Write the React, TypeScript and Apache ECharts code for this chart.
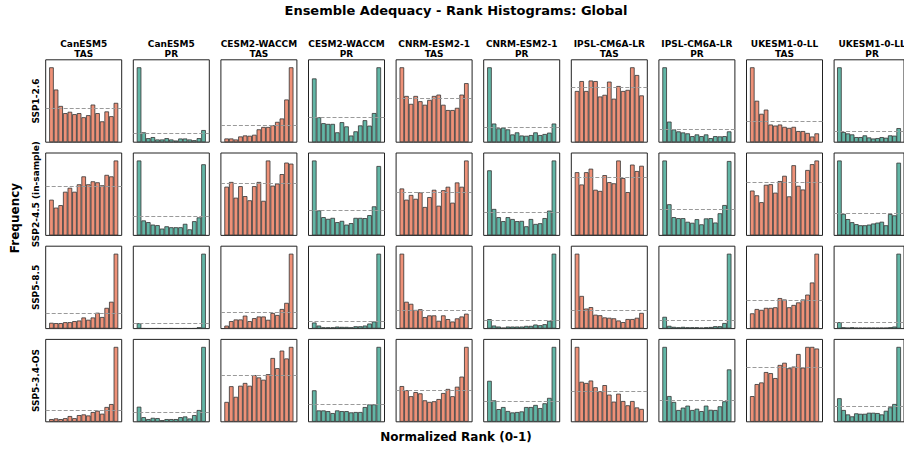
import React, { useEffect, useRef } from "react";
import * as echarts from "echarts";

// Columns: model x variable; rows: scenarios. Values are observed/expected frequency per rank bin (uniform = 1).
const models = ["CanESM5", "CESM2-WACCM", "CNRM-ESM2-1", "IPSL-CM6A-LR", "UKESM1-0-LL"];
const variables = ["TAS", "PR"];
const scenarios = ["SSP1-2.6", "SSP2-4.5 (in-sample)", "SSP5-8.5", "SSP5-3.4-OS"];
const nBins = 15;
const expected = 1;

const ssp126 = [
  [2.19, 1.54, 1.06, 0.85, 0.89, 0.82, 0.85, 0.73, 0.79, 1.10, 0.85, 0.61, 0.90, 0.76, 1.15],
  [8.50, 1.12, 0.46, 0.58, 0.31, 0.31, 0.46, 0.31, 0.19, 0.42, 0.42, 0.31, 0.23, 0.46, 1.38],
  [0.22, 0.22, 0.16, 0.34, 0.40, 0.38, 0.44, 0.76, 0.90, 0.90, 1.00, 1.20, 1.40, 2.52, 4.42],
  [2.58, 1.01, 0.77, 0.74, 0.74, 0.40, 0.81, 0.64, 0.27, 0.44, 0.68, 0.89, 0.67, 1.18, 3.03],
  [1.70, 1.05, 0.87, 1.05, 0.93, 0.85, 0.96, 1.05, 1.08, 0.85, 0.73, 0.73, 0.78, 1.08, 1.34],
  [5.02, 1.25, 0.93, 0.98, 0.86, 0.52, 0.66, 0.45, 0.43, 0.48, 0.66, 0.48, 0.55, 0.64, 1.25],
  [0.93, 1.11, 0.93, 1.12, 1.11, 0.83, 0.86, 1.10, 0.79, 1.02, 0.93, 0.95, 1.36, 1.22, 0.85],
  [5.67, 1.56, 0.97, 0.82, 0.74, 0.67, 0.46, 0.59, 0.46, 0.59, 0.31, 0.46, 0.44, 0.46, 0.82],
  [3.56, 1.97, 1.35, 1.55, 0.84, 0.79, 0.84, 0.73, 0.68, 0.73, 0.53, 0.53, 0.44, 0.27, 0.42],
  [6.90, 0.94, 0.81, 0.72, 0.47, 0.47, 0.63, 0.44, 0.34, 0.38, 0.47, 0.41, 0.63, 0.60, 1.30],
];

const ssp245 = [
  [0.72, 0.56, 0.61, 0.88, 0.96, 0.88, 1.03, 1.19, 1.03, 1.09, 1.07, 1.01, 1.22, 1.19, 1.51],
  [3.95, 0.79, 0.70, 0.57, 0.54, 0.36, 0.48, 0.43, 0.43, 0.43, 0.61, 0.32, 0.75, 0.95, 3.75],
  [0.93, 1.02, 0.72, 0.94, 0.75, 0.67, 0.94, 1.02, 0.66, 1.43, 0.95, 0.99, 1.17, 1.39, 1.37],
  [2.99, 1.00, 0.73, 0.66, 0.70, 0.53, 0.58, 0.43, 0.49, 0.70, 0.70, 0.69, 0.81, 1.16, 2.77],
  [1.09, 0.83, 0.94, 0.85, 1.00, 0.66, 0.89, 1.06, 0.69, 1.05, 1.13, 0.76, 1.23, 1.13, 1.74],
  [2.78, 1.13, 0.78, 0.61, 0.78, 0.70, 0.61, 0.62, 0.39, 0.70, 0.49, 0.52, 0.74, 1.06, 3.20],
  [1.08, 0.87, 1.08, 1.14, 0.78, 0.76, 1.03, 0.91, 0.89, 1.28, 0.98, 0.74, 1.21, 1.10, 1.19],
  [2.91, 1.21, 0.71, 0.67, 0.67, 0.53, 0.49, 0.63, 0.43, 0.66, 0.67, 0.50, 0.86, 1.18, 2.89],
  [0.85, 0.76, 0.63, 0.96, 0.97, 0.81, 1.03, 1.13, 0.74, 1.33, 0.94, 0.87, 1.24, 1.35, 1.42],
  [3.40, 0.98, 0.74, 0.60, 0.51, 0.46, 0.46, 0.49, 0.54, 0.58, 0.62, 0.46, 0.97, 0.91, 3.30],
];

const ssp585 = [
  [0.38, 0.36, 0.36, 0.42, 0.42, 0.49, 0.53, 0.73, 0.58, 0.73, 1.04, 0.76, 1.36, 1.76, 4.91],
  [0.94, 0.06, 0.05, 0.05, 0.06, 0.05, 0.05, 0.06, 0.05, 0.05, 0.06, 0.05, 0.06, 0.24, 13.0],
  [0.18, 0.45, 0.55, 0.55, 0.78, 0.45, 0.63, 0.73, 0.73, 0.53, 0.94, 0.82, 1.18, 1.55, 4.51],
  [0.78, 0.39, 0.17, 0.17, 0.17, 0.26, 0.22, 0.22, 0.17, 0.30, 0.30, 0.39, 0.65, 0.91, 9.60],
  [4.02, 1.44, 1.33, 1.00, 1.04, 0.62, 0.71, 0.71, 0.42, 0.71, 0.51, 0.38, 0.55, 0.65, 0.80],
  [1.12, 0.36, 0.24, 0.12, 0.24, 0.24, 0.24, 0.24, 0.32, 0.32, 0.48, 0.40, 0.52, 0.92, 8.84],
  [4.15, 1.81, 1.11, 1.19, 0.77, 0.74, 0.62, 0.60, 0.57, 0.45, 0.36, 0.53, 0.53, 0.60, 0.87],
  [1.48, 0.35, 0.22, 0.17, 0.22, 0.17, 0.17, 0.17, 0.13, 0.17, 0.20, 0.30, 0.30, 0.70, 9.40],
  [0.53, 0.68, 0.65, 0.72, 0.72, 0.74, 1.06, 1.01, 0.74, 0.82, 0.91, 1.01, 1.18, 1.60, 2.60],
  [0.95, 0.20, 0.15, 0.20, 0.15, 0.15, 0.15, 0.15, 0.15, 0.15, 0.15, 0.15, 0.20, 0.30, 11.0],
];

const ssp534os = [
  [0.23, 0.29, 0.23, 0.31, 0.49, 0.31, 0.57, 0.63, 0.54, 0.83, 0.94, 0.69, 1.26, 1.51, 6.37],
  [1.55, 0.48, 0.28, 0.41, 0.38, 0.17, 0.28, 0.28, 0.28, 0.48, 0.55, 0.34, 0.69, 1.21, 7.69],
  [0.43, 0.77, 0.54, 0.78, 0.84, 0.78, 1.01, 0.96, 0.91, 1.03, 1.38, 1.16, 1.54, 1.37, 1.62],
  [1.77, 0.64, 0.64, 0.60, 0.49, 0.64, 0.60, 0.60, 0.53, 0.55, 0.55, 0.83, 0.98, 0.98, 4.21],
  [1.13, 1.00, 0.81, 0.94, 0.90, 0.68, 0.63, 0.65, 0.72, 0.91, 1.04, 0.81, 1.11, 1.43, 2.37],
  [1.97, 1.03, 0.61, 0.71, 0.52, 0.45, 0.47, 0.50, 0.71, 0.71, 0.81, 0.66, 0.89, 1.15, 3.60],
  [2.45, 1.31, 1.27, 1.35, 1.13, 1.00, 1.20, 0.89, 0.66, 0.92, 0.68, 0.54, 0.68, 0.47, 0.42],
  [3.43, 1.18, 0.91, 0.54, 0.65, 0.74, 0.54, 0.60, 0.49, 0.74, 0.55, 0.54, 0.71, 0.94, 2.40],
  [0.47, 0.69, 0.72, 0.91, 0.89, 0.80, 1.04, 1.08, 0.98, 1.01, 1.24, 0.99, 1.37, 1.37, 1.34],
  [1.56, 0.78, 0.49, 0.36, 0.56, 0.53, 0.53, 0.60, 0.60, 0.58, 0.49, 0.73, 0.96, 1.18, 4.96],
];

const scenarioData = [ssp126, ssp245, ssp585, ssp534os];

const COLORS: Record<string, string> = { TAS: "#EE9178", PR: "#62B6A6" };
const FONT = '"DejaVu Sans", "Liberation Sans", sans-serif';

const PANEL_LEFT0 = 45.7;
const PANEL_DX = 87.6;
const PANEL_W = 76;
const PANEL_TOP0 = 59.8;
const PANEL_DY = 93.2;
const PANEL_H = 82.4;
const X_MIN = -0.05;
const X_MAX = 1.05;

function buildOption() {
  const grid: any[] = [];
  const xAxis: any[] = [];
  const yAxis: any[] = [];
  const series: any[] = [];
  const graphic: any[] = [];
  const barW = PANEL_W / (X_MAX - X_MIN) / nBins;

  const columns: { model: string; variable: string }[] = [];
  models.forEach((m) => variables.forEach((v) => columns.push({ model: m, variable: v })));

  scenarioData.forEach((rowData, r) => {
    columns.forEach((col, c) => {
      const idx = grid.length;
      const vals = rowData[c];
      const vmax = Math.max(...vals);
      grid.push({
        left: PANEL_LEFT0 + c * PANEL_DX,
        top: PANEL_TOP0 + r * PANEL_DY,
        width: PANEL_W,
        height: PANEL_H,
        show: true,
        borderColor: "#222",
        borderWidth: 1,
        backgroundColor: "rgba(0,0,0,0)",
        containLabel: false,
      });
      xAxis.push({ gridIndex: idx, type: "value", min: X_MIN, max: X_MAX, show: false });
      yAxis.push({ gridIndex: idx, type: "value", min: 0, max: vmax * 1.1, show: false });
      series.push({
        type: "bar",
        xAxisIndex: idx,
        yAxisIndex: idx,
        barWidth: barW,
        data: vals.map((v, i) => [(i + 0.5) / nBins, v]),
        itemStyle: { color: COLORS[col.variable], borderColor: "#333", borderWidth: 0.8 },
        markLine: {
          silent: true,
          symbol: "none",
          label: { show: false },
          lineStyle: { color: "#9a9a9a", type: [4, 2], width: 1 },
          data: [{ yAxis: expected }],
        },
      });
    });
  });

  // column headers
  columns.forEach((col, c) => {
    const cx = PANEL_LEFT0 + c * PANEL_DX + PANEL_W / 2;
    graphic.push({
      type: "text", x: cx, y: 44,
      style: { text: col.model, fill: "#000", font: `bold 9px ${FONT}`, textAlign: "center", textVerticalAlign: "middle" },
    });
    graphic.push({
      type: "text", x: cx, y: 53.5,
      style: { text: col.variable, fill: "#000", font: `bold 9px ${FONT}`, textAlign: "center", textVerticalAlign: "middle" },
    });
  });

  // row labels
  scenarios.forEach((s, r) => {
    graphic.push({
      type: "text", x: 36, y: PANEL_TOP0 + r * PANEL_DY + PANEL_H / 2, rotation: Math.PI / 2,
      style: { text: s, fill: "#000", font: `bold 9px ${FONT}`, textAlign: "center", textVerticalAlign: "middle" },
    });
  });

  graphic.push({
    type: "text", x: 456, y: 10,
    style: { text: "Ensemble Adequacy - Rank Histograms: Global", fill: "#000", font: `bold 13px ${FONT}`, textAlign: "center", textVerticalAlign: "middle" },
  });
  graphic.push({
    type: "text", x: 456, y: 437,
    style: { text: "Normalized Rank (0-1)", fill: "#000", font: `bold 12px ${FONT}`, textAlign: "center", textVerticalAlign: "middle" },
  });
  graphic.push({
    type: "text", x: 15, y: 218, rotation: Math.PI / 2,
    style: { text: "Frequency", fill: "#000", font: `bold 12px ${FONT}`, textAlign: "center", textVerticalAlign: "middle" },
  });

  return {
    animation: false,
    backgroundColor: "#fff",
    grid, xAxis, yAxis, series, graphic,
  };
}

export default function App() {
  const ref = useRef<HTMLDivElement>(null);
  useEffect(() => {
    if (!ref.current) return;
    const chart = echarts.init(ref.current, undefined, { renderer: "svg" });
    chart.setOption(buildOption() as any);
    return () => chart.dispose();
  }, []);
  return (
    <div
      ref={ref}
      style={{ position: "absolute", left: 0, top: 0, width: 904, height: 450, background: "#fff" }}
    />
  );
}
